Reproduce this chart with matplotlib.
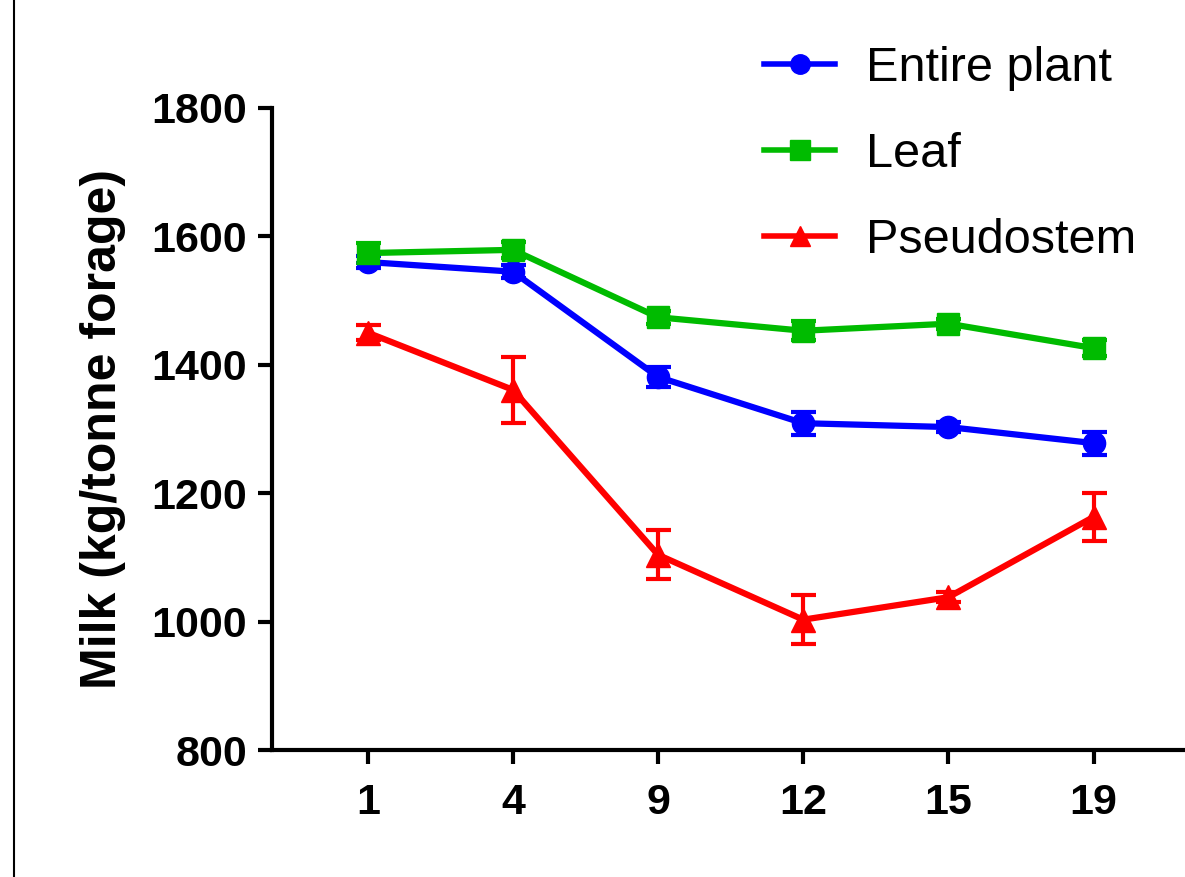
import matplotlib.pyplot as plt
import numpy as np
from matplotlib.lines import Line2D

plt.rcParams['font.family'] = ['Liberation Sans', 'DejaVu Sans']

# data
days = ['1', '4', '9', '12', '15', '19']
entire_plant = [1560, 1545, 1381, 1309, 1303, 1278]
entire_err = [10, 10, 15, 18, 8, 18]
leaf = [1574, 1579, 1474, 1453, 1464, 1426]
leaf_err = [15, 12, 10, 15, 8, 12]
pseudostem = [1450, 1361, 1104, 1003, 1038, 1163]
pseudo_err = [12, 51, 38, 38, 8, 37]

colors = ['#0000ff', '#00bb00', '#ff0000']
markers = ['o', 's', '^']
names = ['Entire plant', 'Leaf', 'Pseudostem']

fig = plt.figure(figsize=(11.85, 8.77), dpi=100)
ax = fig.add_axes([0.2295, 0.1448, 0.7705, 0.7321])

x = np.arange(len(days))
for vals, err, c, m in zip([entire_plant, leaf, pseudostem],
                           [entire_err, leaf_err, pseudo_err], colors, markers):
    ax.errorbar(x, vals, yerr=err, color=c, marker=m, ms=17 if m == '^' else 16,
                lw=4.5, elinewidth=3, capsize=9, capthick=3, zorder=3)

ax.set_ylim(800, 1800)
ax.set_yticks([800, 1000, 1200, 1400, 1600, 1800])
ax.set_xlim(-0.66, 5.63)
ax.set_xticks(x)
ax.set_xticklabels(days)

for s in ['top', 'right']:
    ax.spines[s].set_visible(False)
for s in ['left', 'bottom']:
    ax.spines[s].set_linewidth(3)
ax.tick_params(axis='both', direction='out', length=10, width=3,
               labelsize=31, pad=8)
ax.tick_params(axis='x', pad=14)
for lab in ax.get_xticklabels() + ax.get_yticklabels():
    lab.set_fontweight('bold')

ax.set_ylabel('Milk (kg/tonne forage)', fontsize=36, fontweight='bold', labelpad=18)

handles = [Line2D([], [], color=c, marker=m, ms=14, lw=4) for c, m in zip(colors, markers)]
ax.legend(handles, names, loc='upper left', bbox_to_anchor=(0.645, 0.948),
          bbox_transform=fig.transFigure, frameon=False, fontsize=35,
          handlelength=1.45, handletextpad=0.65, labelspacing=0.85,
          borderpad=0, borderaxespad=0)

# left border line of the original panel
fig.add_artist(Line2D([14 / 1185, 14 / 1185], [0, 1], transform=fig.transFigure,
                      color='black', lw=1.5))

fig.savefig('out.png', dpi=100)
